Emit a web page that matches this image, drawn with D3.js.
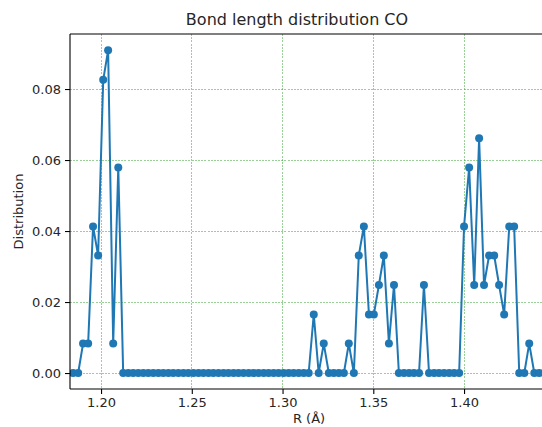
<!DOCTYPE html>
<html>
<head>
<meta charset="utf-8">
<script src="https://cdn.jsdelivr.net/npm/d3@7"></script>
<style>
    body { margin: 0; background: #fff; }
    svg { display: block; font-family: 'DejaVu Sans', sans-serif; }
</style>
</head>
<body>
<div id="chart"></div>
<script>
// Bin centres (Å)
const bondLength = [
    1.1846, 1.1874, 1.1901, 1.1929, 1.1956, 1.1984, 1.2012, 1.2039, 1.2067, 1.2095,
    1.2122, 1.2150, 1.2177, 1.2205, 1.2233, 1.2260, 1.2288, 1.2316, 1.2343, 1.2371,
    1.2398, 1.2426, 1.2454, 1.2481, 1.2509, 1.2537, 1.2564, 1.2592, 1.2619, 1.2647,
    1.2675, 1.2702, 1.2730, 1.2757, 1.2785, 1.2813, 1.2840, 1.2868, 1.2896, 1.2923,
    1.2951, 1.2978, 1.3006, 1.3034, 1.3061, 1.3089, 1.3117, 1.3144, 1.3172, 1.3199,
    1.3227, 1.3255, 1.3282, 1.3310, 1.3338, 1.3365, 1.3393, 1.3420, 1.3448, 1.3476,
    1.3503, 1.3531, 1.3558, 1.3586, 1.3614, 1.3641, 1.3669, 1.3697, 1.3724, 1.3752,
    1.3779, 1.3807, 1.3835, 1.3862, 1.3890, 1.3918, 1.3945, 1.3973, 1.4000, 1.4028,
    1.4056, 1.4083, 1.4110, 1.4138, 1.4166, 1.4193, 1.4221, 1.4249, 1.4276, 1.4304,
    1.4332, 1.4359, 1.4387, 1.4414, 1.4442
];

// Distribution value of each bin
const distribution = [
    0, 0, 0.0083, 0.0083, 0.0413, 0.0331, 0.0826, 0.0909, 0.0083, 0.0579,
    0, 0, 0, 0, 0, 0, 0, 0, 0, 0,
    0, 0, 0, 0, 0, 0, 0, 0, 0, 0,
    0, 0, 0, 0, 0, 0, 0, 0, 0, 0,
    0, 0, 0, 0, 0, 0, 0, 0, 0.0165, 0,
    0.0083, 0, 0, 0, 0, 0.0083, 0, 0.0331, 0.0413, 0.0165,
    0.0165, 0.0248, 0.0331, 0.0083, 0.0248, 0, 0, 0, 0, 0,
    0.0248, 0, 0, 0, 0, 0, 0, 0, 0.0413, 0.0579,
    0.0248, 0.0661, 0.0248, 0.0331, 0.0331, 0.0248, 0.0165, 0.0413, 0.0413, 0,
    0, 0.0083, 0, 0, 0
];

const xTicks = [1.20, 1.25, 1.30, 1.35, 1.40];
const yTicks = [0.00, 0.02, 0.04, 0.06, 0.08];

const chartTitle = 'Bond length distribution CO';
const xLabel = 'R (Å)';
const yLabel = 'Distribution';

const data = bondLength.map((r, i) => ({r: r, p: distribution[i]}));

const totalWidth = 542;
const totalHeight = 427;
// the right edge of the axes falls just outside the picture
const margin = {top: 34, left: 70};
const width = 477;
const height = 355;

const svg = d3.select('#chart')
    .append('svg')
    .attr('width', totalWidth)
    .attr('height', totalHeight);

const g = svg.append('g')
    .attr('transform', `translate(${margin.left},${margin.top})`);

const x = d3.scaleLinear()
    .domain([1.1829, 1.4457])
    .range([0, width]);

const y = d3.scaleLinear()
    .domain([-0.0045, 0.0955])
    .range([height, 0]);

// Grid lines (green, dashed)
g.append('g')
    .attr('class', 'grid')
    .selectAll('line.gx')
    .data(xTicks)
    .enter()
    .append('line')
    .attr('x1', d => x(d))
    .attr('x2', d => x(d))
    .attr('y1', 0)
    .attr('y2', height);

g.select('.grid')
    .selectAll('line.gy')
    .data(yTicks)
    .enter()
    .append('line')
    .attr('x1', 0)
    .attr('x2', width)
    .attr('y1', d => y(d))
    .attr('y2', d => y(d));

g.selectAll('.grid line')
    .attr('stroke', '#2ca02c')
    .attr('stroke-opacity', 0.7)
    .attr('stroke-width', 0.7)
    .attr('stroke-dasharray', '2,1.2')
    .attr('shape-rendering', 'crispEdges');

// Clip the data to the axes box
svg.append('defs')
    .append('clipPath')
    .attr('id', 'plot-clip')
    .append('rect')
    .attr('width', width)
    .attr('height', height);

const plot = g.append('g')
    .attr('clip-path', 'url(#plot-clip)');

const line = d3.line()
    .x(d => x(d.r))
    .y(d => y(d.p));

plot.append('path')
    .datum(data)
    .attr('fill', 'none')
    .attr('stroke', '#1f77b4')
    .attr('stroke-width', 2)
    .attr('stroke-linejoin', 'round')
    .attr('d', line);

plot.selectAll('circle')
    .data(data)
    .enter()
    .append('circle')
    .attr('cx', d => x(d.r))
    .attr('cy', d => y(d.p))
    .attr('r', 4)
    .attr('fill', '#1f77b4');

// Axes
const xAxis = g.append('g')
    .attr('transform', `translate(0,${height})`)
    .call(d3.axisBottom(x)
        .tickValues(xTicks)
        .tickFormat(d3.format('.2f'))
        .tickSizeOuter(0)
        .tickSize(5)
        .tickPadding(4));

const yAxis = g.append('g')
    .call(d3.axisLeft(y)
        .tickValues(yTicks)
        .tickFormat(d3.format('.2f'))
        .tickSizeOuter(0)
        .tickSize(5)
        .tickPadding(4));

[xAxis, yAxis].forEach(a => {
    a.select('.domain').remove();
    a.selectAll('line').attr('stroke', '#000').attr('stroke-width', 1.1);
    a.selectAll('text')
        .attr('fill', '#262626')
        .style('font-size', '13px')
        .style('font-family', "'DejaVu Sans', sans-serif");
});

// Spines: left, bottom, top
g.append('line')
    .attr('x1', 0).attr('x2', 0)
    .attr('y1', 0).attr('y2', height)
    .attr('stroke', '#000').attr('stroke-width', 1.1);

g.append('line')
    .attr('x1', 0).attr('x2', width)
    .attr('y1', height).attr('y2', height)
    .attr('stroke', '#000').attr('stroke-width', 1.1);

g.append('line')
    .attr('x1', 0).attr('x2', width)
    .attr('y1', 0).attr('y2', 0)
    .attr('stroke', '#000').attr('stroke-width', 1.1);

// Title and labels
svg.append('text')
    .attr('x', 297)
    .attr('y', 25)
    .attr('text-anchor', 'middle')
    .attr('fill', '#262626')
    .style('font-size', '16px')
    .text(chartTitle);

// kept just inside the bottom edge so the parentheses are not cut
svg.append('text')
    .attr('x', 309)
    .attr('y', 423)
    .attr('text-anchor', 'middle')
    .attr('fill', '#262626')
    .style('font-size', '13px')
    .text(xLabel);

svg.append('text')
    .attr('transform', `translate(23,${margin.top + height / 2}) rotate(-90)`)
    .attr('text-anchor', 'middle')
    .attr('fill', '#262626')
    .style('font-size', '13px')
    .text(yLabel);
</script>
</body>
</html>
